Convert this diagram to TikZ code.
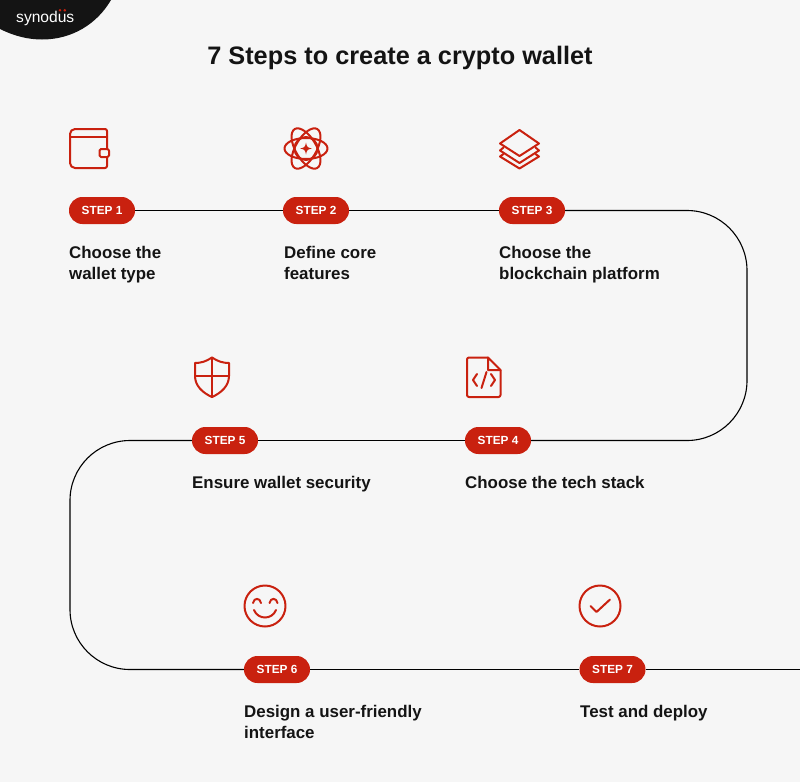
\documentclass[tikz,border=0pt]{standalone}
\usepackage{fontspec}
\setmainfont{Liberation Sans}
\definecolor{bgc}{HTML}{F6F6F6}
\definecolor{redc}{HTML}{C9210F}
\definecolor{inkc}{HTML}{141414}
\begin{document}
\begin{tikzpicture}[x=1pt,y=-1pt,
  pill/.style={fill=redc,rounded corners=13.4pt,minimum width=66pt,minimum height=27pt,inner sep=0pt,text=white,font=\bfseries\fontsize{11.8}{12}\selectfont},
  lbl/.style={anchor=base west,inner sep=0pt,text=inkc,align=left,font=\bfseries\fontsize{16.9}{21}\selectfont},
  link/.style={draw=black,line width=1.1pt},
  ico/.style={draw=redc,line width=2pt,line join=round,line cap=round}]
\useasboundingbox (0,0) rectangle (800,782);
\fill[bgc] (0,0) rectangle (800,782);
% logo
\fill[inkc] (0,29) .. controls (14,36) and (28,39.5) .. (42,39.5) .. controls (72,39.5) and (97,24) .. (111,0) -- (0,0) -- cycle;
\node[inner sep=0pt,anchor=base west,text=white,font=\fontsize{15.6}{16}\selectfont] (logo) at (16,22.5) {synodus};
\fill[redc] (60,10.3) circle (1.4) (64.8,10.3) circle (1.4);
% title
\node[inner sep=0pt,anchor=base,text=inkc,font=\bfseries\fontsize{25.3}{26}\selectfont] (title) at (400,64) {7 Steps to create a crypto wallet};
% pills
\coordinate (r1) at (747,210.5);
\coordinate (r2) at (747,440.5);
\coordinate (l1) at (70,440.5);
\coordinate (l2) at (70,669.5);
\coordinate (endc) at (800,669.5);
\node[pill] (s1) at (102,210.5) {STEP 1};
\node[pill] (s2) at (316,210.5) {STEP 2};
\node[pill] (s3) at (532,210.5) {STEP 3};
\node[pill] (s4) at (498,440.5) {STEP 4};
\node[pill] (s5) at (225,440.5) {STEP 5};
\node[pill] (s6) at (277,669.5) {STEP 6};
\node[pill] (s7) at (612.5,669.5) {STEP 7};
% links
\draw[link] (s1) -- (s2);
\draw[link] (s2) -- (s3);
\draw[link,rounded corners=60pt] (s3.east) -- (r1) -- (r2) -- (s4.east);
\draw[link] (s4) -- (s5);
\draw[link,rounded corners=60pt] (s5.west) -- (l1) -- (l2) -- (s6.west);
\draw[link] (s6) -- (s7);
\draw[link] (s7) -- (endc);
% labels
\node[lbl] (t1) at (69,279) {Choose the\\wallet type};
\node[lbl] (t2) at (284,279) {Define core\\features};
\node[lbl] (t3) at (499,279) {Choose the\\blockchain platform};
\node[lbl] (t4) at (465,488) {Choose the tech stack};
\node[lbl] (t5) at (192,488) {Ensure wallet security};
\node[lbl] (t6) at (244,738) {Design a user-friendly\\interface};
\node[lbl] (t7) at (580,717) {Test and deploy};
% icon 1 wallet
\draw[ico,rounded corners=2pt] (107,149) -- (107,129) -- (73,129) -- (70,132) -- (70,165) -- (73,168) -- (107,168) -- (107,157);
\draw[ico] (70,136.5) -- (107,136.5);
\draw[ico,rounded corners=1.5pt] (99.5,149) rectangle (109,157);
% icon 2 atom
\begin{scope}[shift={(306,148.5)}]
\draw[ico] (0,0) circle (11.5);
\draw[ico] (0,0) ellipse (21.5 and 10.5);
\draw[ico,rotate=60] (0,0) ellipse (22.5 and 10.5);
\draw[ico,rotate=120] (0,0) ellipse (22.5 and 10.5);
\fill[redc] (0,-6) .. controls (.8,-1.5) and (1.5,-.8) .. (6,0) .. controls (1.5,.8) and (.8,1.5) .. (0,6) .. controls (-.8,1.5) and (-1.5,.8) .. (-6,0) .. controls (-1.5,-.8) and (-.8,-1.5) .. (0,-6) -- cycle;
\end{scope}
% icon 3 layers
\draw[ico] (519.5,130) -- (539,143.5) -- (519.5,156) -- (500,143.5) -- cycle;
\draw[ico] (503.5,147.5) -- (500,150.5) -- (519.5,163) -- (539,150.5) -- (535.5,147.5);
\draw[ico] (503.5,154) -- (500,156.5) -- (519.5,168.5) -- (539,156.5) -- (535.5,154);
% icon 4 code file
\draw[ico,rounded corners=2pt] (488,357.5) -- (467,357.5) -- (467,397) -- (500.5,397) -- (500.5,370);
\draw[ico] (488,357.5) -- (500.5,370) -- (488,370) -- cycle;
\draw[ico] (477,374) -- (473,380) -- (477,386);
\draw[ico] (491,374) -- (495,380) -- (491,386);
\draw[ico] (486.5,372) -- (481.5,388);
% icon 5 shield
\draw[ico] (212,357.5) .. controls (206,361.5) and (201,363) .. (195,363) -- (195,376) .. controls (195,386) and (203,393) .. (212,397) .. controls (221,393) and (229,386) .. (229,376) -- (229,363) .. controls (223,363) and (218,361.5) .. (212,357.5) -- cycle;
\draw[ico] (212,357.5) -- (212,397);
\draw[ico] (195,376) -- (229,376);
% icon 6 smile
\draw[ico] (265,606) circle (20.5);
\draw[ico] (253,603) .. controls (254,597.5) and (260,597.5) .. (261,603);
\draw[ico] (269.5,603) .. controls (270.5,597.5) and (276.5,597.5) .. (277.5,603);
\draw[ico] (254,610) .. controls (258,620) and (272,620) .. (276,610);
% icon 7 check
\draw[ico] (600,606) circle (20.5);
\draw[ico] (590.5,606) -- (596.5,612) -- (610,599.5);
\end{tikzpicture}
\end{document}
